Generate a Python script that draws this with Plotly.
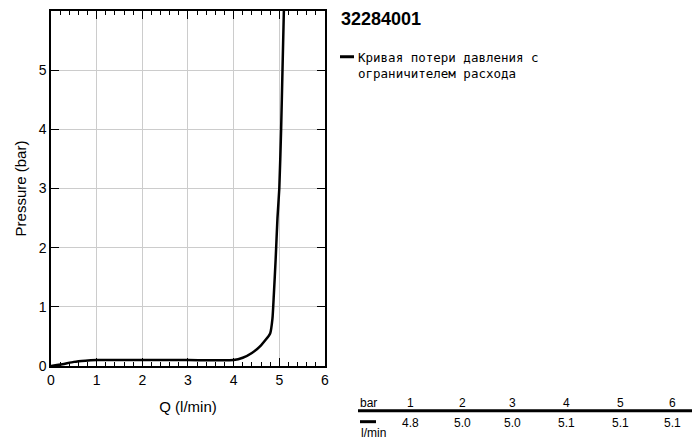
import plotly.graph_objects as go

q = [0, 0.25, 0.5, 0.75, 1.0, 2.0, 3.0, 4.0, 4.2, 4.4, 4.6, 4.8, 4.85, 4.88, 4.92, 4.96, 5.0, 5.04, 5.07, 5.1]
p = [0, 0.03, 0.07, 0.09, 0.1, 0.1, 0.1, 0.1, 0.14, 0.22, 0.35, 0.55, 0.8, 1.2, 1.8, 2.5, 3.0, 4.0, 5.0, 6.0]
series_name = "Кривая потери давления с<br>ограничителем расхода"
title = "32284001"
tbl_bar = ["1", "2", "3", "4", "5", "6"]
tbl_q = ["4.8", "5.0", "5.0", "5.1", "5.1", "5.1"]
tbl_px = [410, 462, 512, 566, 620, 672]

OFF = 8
W, H = 700 - OFF, 439 - OFF
L, R, T, B = 51 - OFF, 325 - OFF, 6 - OFF + 2, 366 - OFF
T = max(T, 1)
def px(x): return (x - OFF - L) / (R - L)
def py(y): return (B - (y - OFF)) / (B - T)

fig = go.Figure(go.Scatter(x=q, y=p, mode="lines", line=dict(color="black", width=2.5, shape="spline", smoothing=0.5), showlegend=False))
ax = dict(dtick=1, showgrid=True, gridcolor="#cccccc", gridwidth=1,
          showline=True, linecolor="black", linewidth=1.5, mirror="ticks", ticks="inside",
          ticklen=8, tickcolor="black", zeroline=False, tickfont=dict(family="Liberation Sans", size=14, color="black"),
          minor=dict(dtick=0.2, ticks="inside", ticklen=4, tickcolor="black", showgrid=False))
fig.update_xaxes(**ax, range=[0, 6.001], title=dict(text="Q (l/min)", font=dict(family="Liberation Sans", size=15, color="black")))
fig.update_yaxes(**ax, range=[0, 6.001], title=dict(text="Pressure (bar)", font=dict(family="Liberation Sans", size=15, color="black"), standoff=8))
fig.update_yaxes(minor=dict(ticks=""))

ann = [
    dict(x=px(339), y=py(17), text="<b>" + title + "</b>", font=dict(family="Liberation Sans", size=18, color="black"), xanchor="left", yanchor="middle"),
    dict(x=px(356), y=py(46), text=series_name, font=dict(family="DejaVu Sans Mono", size=12.5, color="black"), xanchor="left", yanchor="top", align="left"),
    dict(x=px(358), y=py(403), text="bar", font=dict(family="Liberation Sans", size=12, color="black"), xanchor="left", yanchor="middle"),
    dict(x=px(359), y=py(433), text="l/min", font=dict(family="Liberation Sans", size=12, color="black"), xanchor="left", yanchor="middle"),
]
for b, v, xp in zip(tbl_bar, tbl_q, tbl_px):
    ann.append(dict(x=px(xp), y=py(403), text=b, font=dict(family="Liberation Sans", size=12, color="black"), xanchor="center", yanchor="middle"))
    ann.append(dict(x=px(xp), y=py(423), text=v, font=dict(family="Liberation Sans", size=12, color="black"), xanchor="center", yanchor="middle"))
for a in ann:
    a.update(xref="paper", yref="paper", showarrow=False)

shapes = [
    dict(type="line", xref="paper", yref="paper", x0=px(340), x1=px(354), y0=py(55), y1=py(55), line=dict(color="black", width=3)),
    dict(type="line", xref="paper", yref="paper", x0=px(358), x1=px(700), y0=py(411), y1=py(411), line=dict(color="black", width=3)),
    dict(type="line", xref="paper", yref="paper", x0=px(360), x1=px(376), y0=py(422), y1=py(422), line=dict(color="black", width=3)),
]
fig.update_layout(width=W, height=H, margin=dict(l=L, r=W - R, t=T, b=H - B),
                  plot_bgcolor="white", paper_bgcolor="white", annotations=ann, shapes=shapes)
fig.write_html("out.html")
